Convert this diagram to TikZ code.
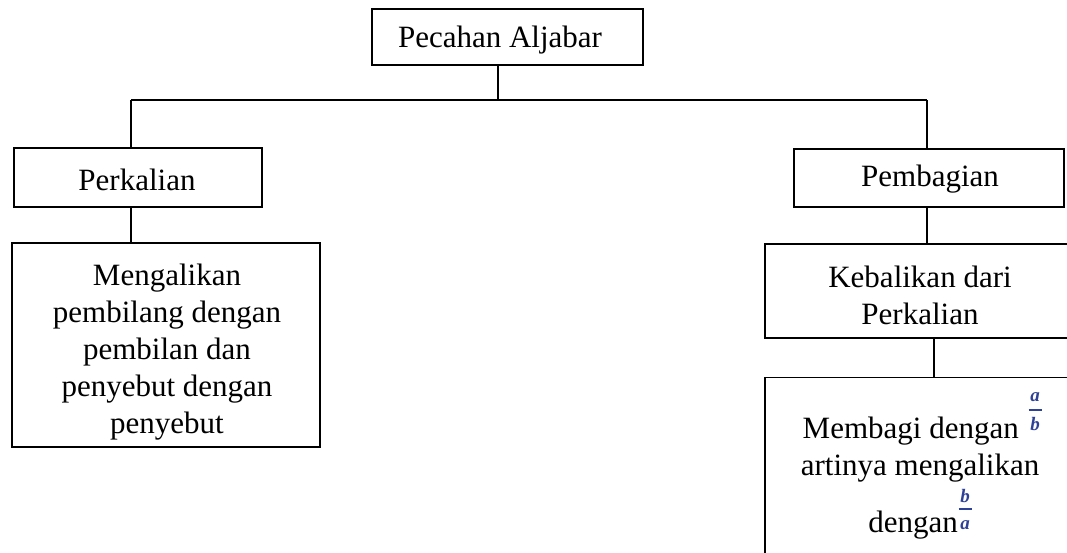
\documentclass[tikz,border=0pt]{standalone}
\usepackage{fontspec}
\setmainfont{Liberation Serif}
\definecolor{fraccol}{RGB}{45,65,150}
\begin{document}
\begin{tikzpicture}[x=1pt,y=-1pt,
  box/.style={draw,line width=1.3pt,inner sep=0pt,align=center,font=\fontsize{31}{37}\selectfont},
  txt/.style={inner sep=0pt,align=center,font=\fontsize{31}{37}\selectfont},
  link/.style={line width=1.3pt},
  fracl/.style={text=fraccol,inner sep=0pt,font=\fontsize{19}{19}\selectfont\bfseries\itshape},
  fracbar/.style={draw=fraccol,line width=1.6pt}]
\useasboundingbox (0,0) rectangle (1067,552);
\node[box,minimum width=271pt,minimum height=56pt] (root) at (507.5,37) {};
\node[txt] (rootlabel) at (500,40) {Pecahan Aljabar};
\node[box,minimum width=248pt,minimum height=59pt] (kali) at (138,177.5) {};
\node[txt] (kalilabel) at (137,180) {Perkalian};
\node[box,minimum width=308pt,minimum height=204pt] (kalitext) at (166,345) {};
\node[txt] (kalitextlabel) at (167,352) {Mengalikan\\pembilang dengan\\pembilan dan\\penyebut dengan\\penyebut};
\node[box,minimum width=270pt,minimum height=58pt] (bagi) at (929,178) {};
\node[txt] (bagilabel) at (930,179) {Pembagian};
\begin{scope}
\clip (0,0) rectangle (1067,552);
\node[box,minimum width=310pt,minimum height=94pt] (balik) at (920,291) {};
\node[draw,line width=1.3pt,inner sep=0pt,minimum width=310pt,minimum height=200pt,anchor=north] (bagitext) at (920,377) {};
\end{scope}
\node[txt] (baliklabel) at (920,295) {Kebalikan dari\\Perkalian};
\node[txt,anchor=base east] (m1) at (1019,438) {Membagi dengan};
\node[txt,anchor=base] (m2) at (920,475) {artinya mengalikan};
\node[txt,anchor=base east] (m3) at (958,532) {dengan};
% fraction a/b
\node[fracl] (f1n) at (1035,397) {a};
\node[fracl] (f1d) at (1035,424) {b};
\draw[fracbar] ([xshift=-6.5pt]f1n.south |- 0,410) coordinate (f1l) -- ++(13,0) coordinate (f1r);
% fraction b/a
\node[fracl] (f2n) at (965,496) {b};
\node[fracl] (f2d) at (965,525) {a};
\draw[fracbar] ([xshift=-6.5pt]f2n.south |- 0,509) coordinate (f2l) -- ++(13,0) coordinate (f2r);
\coordinate (bus) at (498,100);
\coordinate (busL) at (131,100);
\coordinate (busR) at (927,100);
\coordinate (c2) at (934,0);
\draw[link] (root.south -| bus) -- (bus);
\draw[link] (busL) -- (busR);
\draw[link] (busL) -- (kali.north -| busL);
\draw[link] (busR) -- (bagi.north -| busR);
\draw[link] (kali.south -| busL) -- (kalitext.north -| busL);
\draw[link] (bagi.south -| busR) -- (balik.north -| busR);
\draw[link] (balik.south -| c2) -- (bagitext.north -| c2);
\end{tikzpicture}
\end{document}
